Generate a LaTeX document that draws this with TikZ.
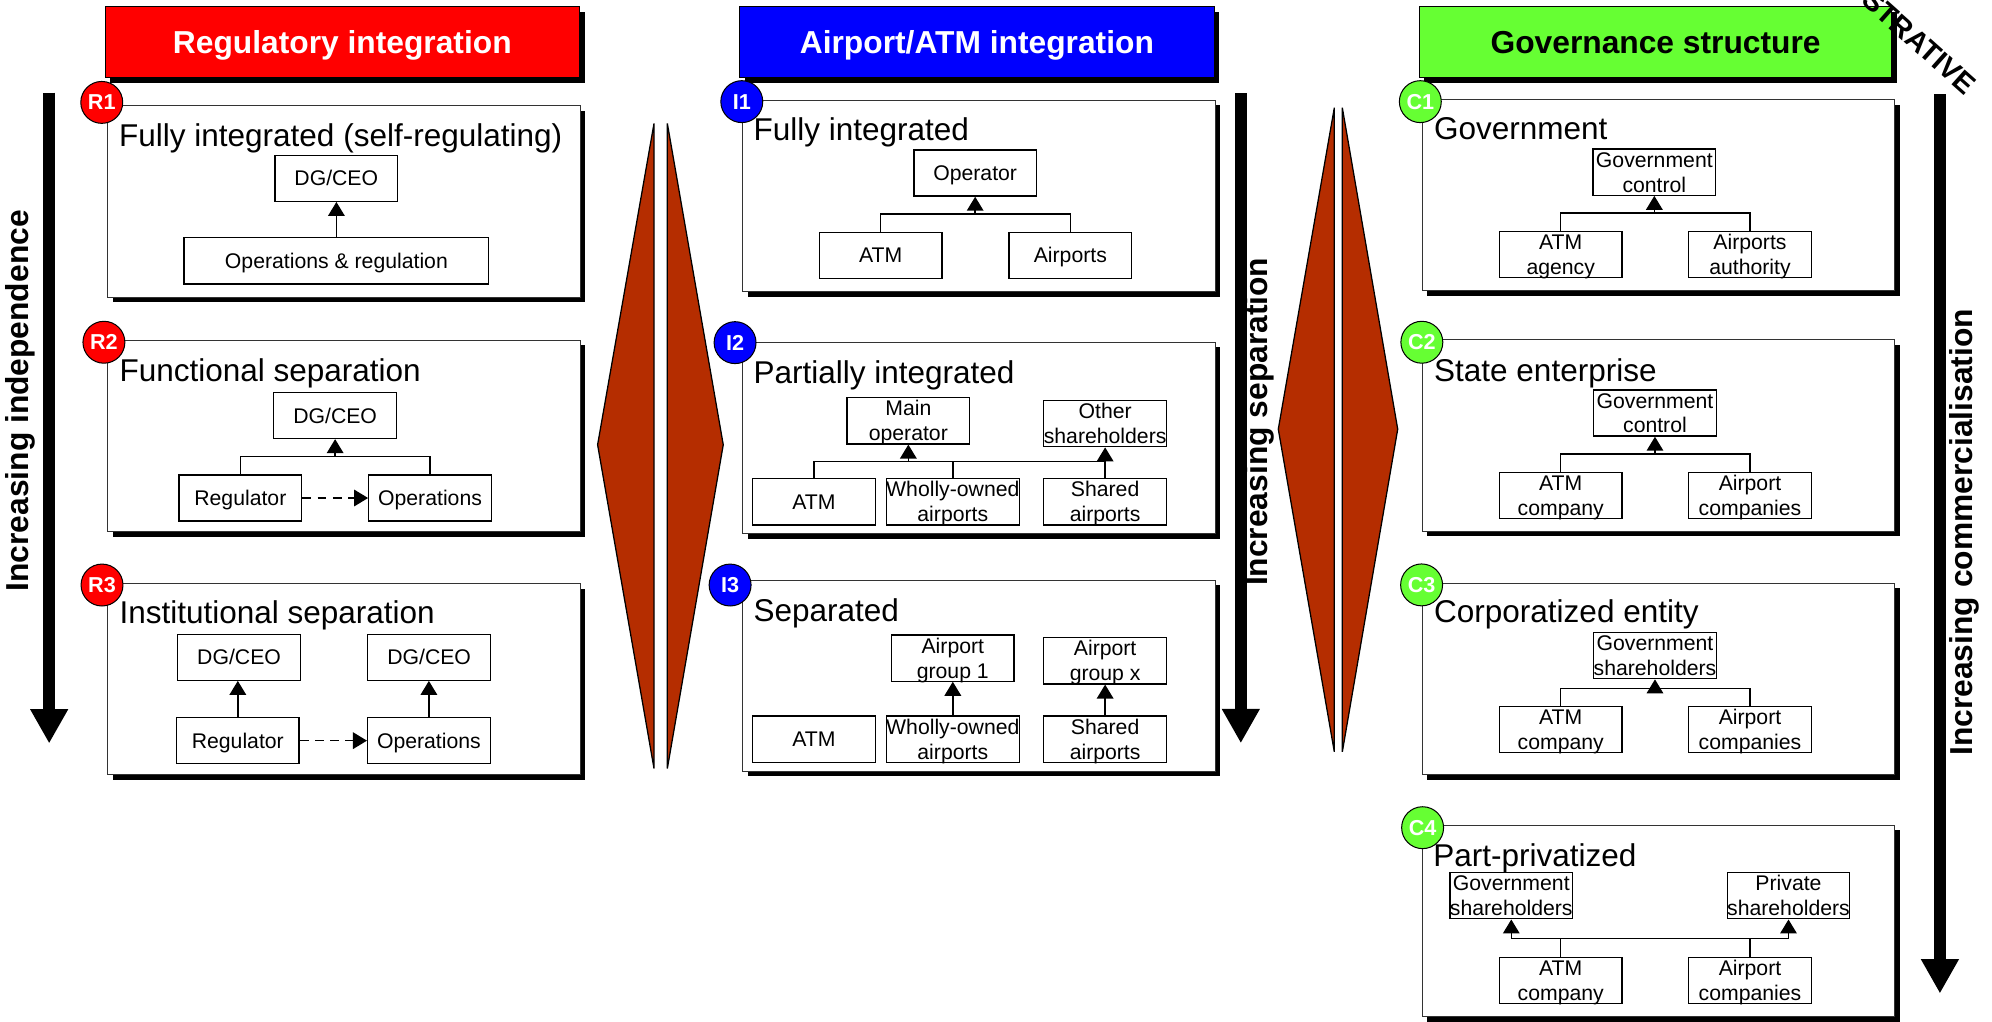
\documentclass[tikz,border=0pt]{standalone}
\usepackage{fontspec}
\setmainfont{Liberation Sans}
\usetikzlibrary{arrows.meta,shadows}

\definecolor{regred}{RGB}{255,0,0}
\definecolor{intblue}{RGB}{0,0,255}
\definecolor{govgreen}{RGB}{102,255,51}
\definecolor{rust}{RGB}{181,45,0}

% two stacked lines inside a small box, second line sitting near the bottom edge
\newcommand{\twolines}[2]{\smash{\raisebox{-9.7pt}{\begin{tabular}[b]{@{}c@{}}#1\\#2\end{tabular}}}}

\begin{document}
\begin{tikzpicture}[x=1pt,y=-1pt,
  shade/.style={drop shadow={shadow xshift=4pt,shadow yshift=-4pt,opacity=1,fill=black}},
  header/.style={shade, draw=black, line width=0.8pt, minimum width=373.5pt, minimum height=56pt,
    anchor=north west, inner sep=0pt, text height=18pt, text depth=0pt,
    font=\bfseries\fontsize{25}{30}\selectfont},
  panel/.style={shade, draw=black!80, fill=white, line width=0.8pt, minimum width=372pt,
    minimum height=150.5pt, anchor=north west, inner sep=0pt},
  ttl/.style={anchor=base west, inner sep=0pt, font=\fontsize{24.8}{29}\selectfont},
  badge/.style={circle, draw=black, line width=0.8pt, minimum size=33pt, inner sep=0pt,
    text=white, font=\bfseries\fontsize{17}{20}\selectfont},
  ibox/.style={draw=black, line width=1pt, fill=white, minimum width=96.5pt, minimum height=36.3pt,
    inner sep=0pt, text height=12pt, text depth=0pt, font=\fontsize{16.7}{19.6}\selectfont},
  conn/.style={line width=1.2pt},
  arr/.style={conn, -{Triangle[width=13pt,length=11pt]}},
  darr/.style={arr, dash pattern=on 7pt off 5pt},
  bigarr/.style={line width=9pt, -{Triangle[width=28pt,length=27pt]}},
  bigtxt/.style={rotate=90, inner sep=0pt, font=\bfseries\fontsize{25}{30}\selectfont},
  wedge/.style={fill=rust, draw=black, line width=1pt, line join=miter}
]
\useasboundingbox (0,0) rectangle (1568,804);

% ---------- column headers ----------
\node[header, fill=regred, text=white] (hreg) at (82.3,4.7) {Regulatory integration};
\node[header, fill=intblue, text=white] (hint) at (581.8,4.7) {Airport/ATM integration};
\node[header, fill=govgreen, text=black, minimum width=372pt] (hgov) at (1116.8,4.7) {Governance structure};

% ---------- panels ----------
\node[panel] (pr1) at (84.3,83) {};
\node[panel] (pr2) at (84.3,267.5) {};
\node[panel] (pr3) at (84.3,459) {};
\node[panel] (pi1) at (584,78.5) {};
\node[panel] (pi2) at (584,269) {};
\node[panel] (pi3) at (584,456.2) {};
\node[panel] (pc1) at (1119,78) {};
\node[panel] (pc2) at (1119,267.2) {};
\node[panel] (pc3) at (1119,458.8) {};
\node[panel] (pc4) at (1119,649.2) {};

% ---------- panel titles ----------
\node[ttl] (tr1) at (93.6,115.5) {Fully integrated (self-regulating)};
\node[ttl] (tr2) at (93.9,300.4) {Functional separation};
\node[ttl] (tr3) at (93.9,490.7) {Institutional separation};
\node[ttl] (ti1) at (593,110.2) {Fully integrated};
\node[ttl] (ti2) at (593,301.7) {Partially integrated};
\node[ttl] (ti3) at (593,489.3) {Separated};
\node[ttl] (tc1) at (1128.6,109.7) {Government};
\node[ttl] (tc2) at (1128.7,299.9) {State enterprise};
\node[ttl] (tc3) at (1128.7,490.1) {Corporatized entity};
\node[ttl] (tc4) at (1128,681.7) {Part-privatized};

% ---------- option badges ----------
\node[badge, fill=regred] (br1) at (80.1,80.6) {R1};
\node[badge, fill=regred] (br2) at (81.8,269.4) {R2};
\node[badge, fill=regred] (br3) at (80.3,460.5) {R3};
\node[badge, fill=intblue] (bi1) at (583.9,80) {I1};
\node[badge, fill=intblue] (bi2) at (578.6,269.7) {I2};
\node[badge, fill=intblue] (bi3) at (574.7,460.5) {I3};
\node[badge, fill=govgreen] (bc1) at (1118,80) {C1};
\node[badge, fill=govgreen] (bc2) at (1119.2,269.4) {C2};
\node[badge, fill=govgreen] (bc3) at (1119,460.4) {C3};
\node[badge, fill=govgreen] (bc4) at (1119.8,651.5) {C4};

% ---------- R1 ----------
\node[ibox] (r1dg) at (264.7,140.3) {DG/CEO};
\node[ibox, minimum width=240pt] (r1ops) at (264.8,205.3) {Operations \& regulation};
\draw[arr] (r1ops.north) -- (r1ops.north |- r1dg.south);

% ---------- R2 ----------
\node[ibox] (r2dg) at (263.8,327) {DG/CEO};
\node[ibox] (r2reg) at (189.2,392) {Regulator};
\node[ibox] (r2ops) at (338.5,392) {Operations};
\coordinate (r2bar) at (263.8,359.5);
\draw[conn] (r2reg.north) |- (r2bar) -| (r2ops.north);
\draw[arr] (r2bar) -- (r2dg.south);
\draw[darr] (r2reg.east) -- (r2ops.west);

% ---------- R3 ----------
\node[ibox] (r3dgl) at (188.2,517.3) {DG/CEO};
\node[ibox] (r3dgr) at (337.8,517.3) {DG/CEO};
\node[ibox] (r3reg) at (187.2,583) {Regulator};
\node[ibox] (r3ops) at (337.6,583) {Operations};
\draw[arr] (r3reg.north) -- (r3reg.north |- r3dgl.south);
\draw[arr] (r3ops.north) -- (r3ops.north |- r3dgr.south);
\draw[darr] (r3reg.east) -- (r3ops.west);

% ---------- I1 ----------
\node[ibox] (i1op) at (767.6,136.2) {Operator};
\node[ibox] (i1atm) at (693.2,201) {ATM};
\node[ibox] (i1air) at (842.5,201) {Airports};
\coordinate (i1bar) at (767.6,168.5);
\draw[conn] (i1atm.north) |- (i1bar) -| (i1air.north);
\draw[arr] (i1bar) -- (i1op.south);

% ---------- I2 ----------
\node[ibox] (i2main) at (715,331.3) {\twolines{Main}{operator}};
\node[ibox] (i2oth) at (869.9,333.5) {\twolines{Other}{shareholders}};
\node[ibox] (i2atm) at (640.7,395) {ATM};
\node[ibox] (i2who) at (750,395) {\twolines{Wholly-owned}{airports}};
\node[ibox] (i2sha) at (869.9,395) {\twolines{Shared}{airports}};
\coordinate (i2bar) at (715,363.4);
\draw[conn] (i2atm.north) |- (i2sha.north |- i2bar);
\draw[conn] (i2who.north) -- (i2who.north |- i2bar);
\draw[arr] (i2bar) -- (i2main.south);
\draw[arr] (i2sha.north) -- (i2oth.south);

% ---------- I3 ----------
\node[ibox] (i3g1) at (750,518) {\twolines{Airport}{group 1}};
\node[ibox] (i3gx) at (869.9,520.2) {\twolines{Airport}{group x}};
\node[ibox] (i3atm) at (640.7,581.8) {ATM};
\node[ibox] (i3who) at (750,581.8) {\twolines{Wholly-owned}{airports}};
\node[ibox] (i3sha) at (869.9,581.8) {\twolines{Shared}{airports}};
\draw[arr] (i3who.north) -- (i3g1.south);
\draw[arr] (i3sha.north) -- (i3gx.south);

% ---------- C1 ----------
\node[ibox] (c1gov) at (1302.2,135.5) {\twolines{Government}{control}};
\node[ibox] (c1atm) at (1228.5,200.2) {\twolines{ATM}{agency}};
\node[ibox] (c1air) at (1377.5,200.2) {\twolines{Airports}{authority}};
\coordinate (c1bar) at (1302.2,167.6);
\draw[conn] (c1atm.north) |- (c1bar) -| (c1air.north);
\draw[arr] (c1bar) -- (c1gov.south);

% ---------- C2 ----------
\node[ibox] (c2gov) at (1302.7,325.1) {\twolines{Government}{control}};
\node[ibox] (c2atm) at (1228.5,389.9) {\twolines{ATM}{company}};
\node[ibox] (c2air) at (1377.5,389.9) {\twolines{Airport}{companies}};
\coordinate (c2bar) at (1302.7,357.3);
\draw[conn] (c2atm.north) |- (c2bar) -| (c2air.north);
\draw[arr] (c2bar) -- (c2gov.south);

% ---------- C3 ----------
\node[ibox] (c3gov) at (1302.7,516.1) {\twolines{Government}{shareholders}};
\node[ibox] (c3atm) at (1228.5,574.3) {\twolines{ATM}{company}};
\node[ibox] (c3air) at (1377.5,574.3) {\twolines{Airport}{companies}};
\coordinate (c3bar) at (1302.7,542);
\draw[conn] (c3atm.north) |- (c3bar) -| (c3air.north);
\draw[arr] (c3bar) -- (c3gov.south);

% ---------- C4 ----------
\node[ibox] (c4gov) at (1189.6,705.1) {\twolines{Government}{shareholders}};
\node[ibox] (c4pri) at (1407.8,705.1) {\twolines{Private}{shareholders}};
\node[ibox] (c4atm) at (1228.5,771.9) {\twolines{ATM}{company}};
\node[ibox] (c4air) at (1377.5,771.9) {\twolines{Airport}{companies}};
\coordinate (c4bar) at (1298,738.6);
\draw[conn] (c4gov.south |- c4bar) -- (c4pri.south |- c4bar);
\draw[conn] (c4atm.north) -- (c4atm.north |- c4bar);
\draw[conn] (c4air.north) -- (c4air.north |- c4bar);
\draw[arr] (c4gov.south |- c4bar) -- (c4gov.south);
\draw[arr] (c4pri.south |- c4bar) -- (c4pri.south);

% ---------- split wedges between columns ----------
\filldraw[wedge] (514.8,97.2) -- (470.4,350.1) -- (514.8,604.9) -- cycle;
\filldraw[wedge] (525.3,97.2) -- (569.3,350.1) -- (525.3,604.9) -- cycle;
\filldraw[wedge] (1050.3,84.8) -- (1006.2,337.8) -- (1050.3,591.8) -- cycle;
\filldraw[wedge] (1056.6,84.8) -- (1100.2,337.8) -- (1056.6,591.8) -- cycle;

% ---------- trend arrows ----------
\coordinate (ltop) at (38.7,73);
\coordinate (lbot) at (38.7,585.2);
\coordinate (mtop) at (976.7,73.5);
\coordinate (mbot) at (976.7,585);
\coordinate (rtop) at (1527,74.3);
\coordinate (rbot) at (1527,782);
\draw[bigarr] (ltop) -- (lbot);
\draw[bigarr] (mtop) -- (mbot);
\draw[bigarr] (rtop) -- (rbot);
\node[bigtxt] (tindep) at (16.4,315.5) {Increasing independence};
\node[bigtxt] (tsep) at (991,332) {Increasing separation};
\node[bigtxt] (tcomm) at (1546,419) {Increasing commercialisation};

% ---------- corner stamp ----------
\begin{scope}
  \clip (0,0) rectangle (1568,804);
  \node[rotate=-41.7, inner sep=0pt, font=\bfseries\fontsize{22.7}{27}\selectfont] (stamp) at (1491.9,16.5) {ILLUSTRATIVE};
\end{scope}
\end{tikzpicture}
\end{document}
